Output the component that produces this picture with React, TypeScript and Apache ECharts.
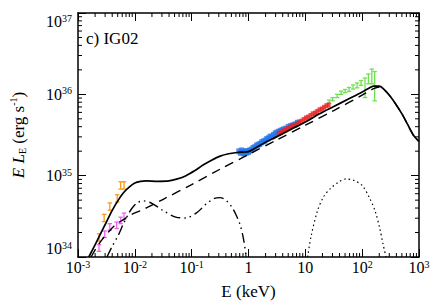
import React, { useEffect, useRef } from "react";
import * as echarts from "echarts";

// All values are log10(E / keV) and log10(E L_E / erg s^-1)
const X_MIN = -3, X_MAX = 3, Y_MIN = 34, Y_MAX = 37;

// Total model (solid)
const totalLogE = [-2.81, -2.7, -2.6, -2.5, -2.4, -2.3, -2.2, -2.1, -2.0, -1.9, -1.8, -1.6, -1.4, -1.25, -1.1, -0.95, -0.8, -0.65, -0.5, -0.35, -0.2, -0.1, 0.0, 0.1, 0.3, 0.5, 0.75, 1.0, 1.25, 1.5, 1.75, 2.0, 2.1, 2.2, 2.3, 2.4, 2.5, 2.6, 2.7, 2.8, 2.9, 3.0];
const totalLogL = [34.0, 34.15, 34.29, 34.43, 34.57, 34.69, 34.79, 34.86, 34.91, 34.93, 34.935, 34.93, 34.935, 34.96, 35.0, 35.06, 35.13, 35.19, 35.24, 35.27, 35.285, 35.29, 35.295, 35.33, 35.41, 35.48, 35.57, 35.66, 35.76, 35.85, 35.94, 36.03, 36.07, 36.1, 36.1, 36.05, 35.97, 35.87, 35.76, 35.63, 35.5, 35.42];

// Comptonised power law (dashed)
const powerLogE = [-2.77, -2.68, -2.58, -2.46, -2.35, -2.2, -2.07, -1.9, -1.78, -1.5, -1.0, -0.5, 0.0, 0.5, 1.0, 1.5, 2.0, 2.1, 2.2, 2.3, 2.4, 2.5, 2.6, 2.7, 2.8, 2.9, 3.0];
const powerLogL = [34.0, 34.11, 34.21, 34.31, 34.39, 34.46, 34.52, 34.57, 34.61, 34.71, 34.89, 35.08, 35.26, 35.44, 35.62, 35.8, 35.99, 36.03, 36.07, 36.09, 36.05, 35.97, 35.87, 35.76, 35.63, 35.5, 35.42];

// Disc + reprocessed component (dash-dot-dot)
const diskLogE = [-2.49, -2.4, -2.29, -2.2, -2.12, -2.05, -1.95, -1.85, -1.7, -1.5, -1.28, -1.1, -0.9, -0.75, -0.6, -0.5, -0.4, -0.3, -0.22, -0.15, -0.09, -0.04];
const diskLogL = [34.0, 34.13, 34.27, 34.41, 34.52, 34.6, 34.67, 34.69, 34.66, 34.57, 34.49, 34.48, 34.55, 34.65, 34.72, 34.73, 34.7, 34.62, 34.52, 34.4, 34.23, 34.0];

// Reflection hump (dotted)
const reflLogE = [1.04, 1.1, 1.21, 1.32, 1.44, 1.58, 1.72, 1.86, 2.0, 2.12, 2.23, 2.31, 2.37, 2.42];
const reflLogL = [34.0, 34.25, 34.56, 34.74, 34.84, 34.92, 34.96, 34.94, 34.88, 34.74, 34.56, 34.35, 34.15, 34.0];

// Optical/UV data (orange, magenta) with half error in dex
const orangeLogE = [-2.63, -2.54, -2.44, -2.31, -2.25, -2.19];
const orangeLogL = [34.24, 34.48, 34.62, 34.72, 34.88, 34.88];
const orangeErr = [0.045, 0.045, 0.045, 0.045, 0.045, 0.045];

const magentaLogE = [-2.63, -2.53, -2.44, -2.32, -2.25, -2.19];
const magentaLogL = [34.11, 34.28, 34.37, 34.39, 34.45, 34.5];
const magentaErr = [0.04, 0.04, 0.04, 0.04, 0.04, 0.04];

// Soft X-ray (blue)
const blueLogE = [-0.17, -0.14, -0.12, -0.1, -0.08, -0.06, -0.04, -0.02, 0.0, 0.02, 0.05, 0.08, 0.11, 0.14, 0.17, 0.2, 0.23, 0.26, 0.29, 0.32, 0.35, 0.38, 0.41, 0.44, 0.47, 0.5, 0.53, 0.56, 0.59, 0.62, 0.66, 0.7, 0.74, 0.78, 0.82, 0.86];
const blueLogL = [35.3, 35.28, 35.31, 35.29, 35.27, 35.3, 35.28, 35.3, 35.29, 35.31, 35.32, 35.34, 35.35, 35.37, 35.38, 35.39, 35.41, 35.42, 35.43, 35.45, 35.46, 35.48, 35.48, 35.5, 35.52, 35.53, 35.54, 35.55, 35.56, 35.57, 35.58, 35.6, 35.61, 35.62, 35.63, 35.65];

// Hard X-ray (red)
const redLogE = [0.53, 0.57, 0.61, 0.65, 0.69, 0.73, 0.77, 0.81, 0.85, 0.89, 0.93, 0.97, 1.01, 1.05, 1.09, 1.13, 1.17, 1.21, 1.25, 1.29, 1.33, 1.37, 1.41];
const redLogL = [35.52, 35.53, 35.55, 35.56, 35.58, 35.59, 35.61, 35.62, 35.64, 35.66, 35.67, 35.69, 35.71, 35.72, 35.74, 35.76, 35.77, 35.79, 35.81, 35.82, 35.84, 35.86, 35.87];

// Gamma-ray (green)
const greenLogE = [1.42, 1.48, 1.56, 1.63, 1.7, 1.77, 1.84, 1.91, 1.98, 2.05, 2.11, 2.17, 2.22];
const greenLogL = [35.91, 35.94, 35.98, 36.02, 36.04, 36.06, 36.09, 36.11, 36.14, 36.08, 36.19, 36.22, 36.1];
const greenErr = [0.02, 0.02, 0.02, 0.02, 0.02, 0.025, 0.025, 0.03, 0.03, 0.12, 0.06, 0.09, 0.18];

const xTickLabels = ["10{s|-3}", "10{s|-2}", "10{s|-1}", "1", "10", "10{s|2}", "10{s|3}"];
const yTickLabels = ["10{s|34}", "10{s|35}", "10{s|36}", "10{s|37}"];

const FONT = "Liberation Serif";

const zip = (a: number[], b: number[]) => a.map((v, i) => [v, b[i]]);
const zip3 = (a: number[], b: number[], c: number[]) => a.map((v, i) => [v, b[i], c[i]]);

const errorBarSeries = (name: string, data: number[][], color: string, capHalf: number) => ({
  name,
  type: "custom",
  data,
  z: 3,
  renderItem: (params: any, api: any) => {
    const x = api.value(0), y = api.value(1), e = api.value(2);
    const lo = api.coord([x, y - e]);
    const hi = api.coord([x, y + e]);
    const st = { stroke: color, lineWidth: 1.3 };
    return {
      type: "group",
      children: [
        { type: "line", shape: { x1: lo[0], y1: lo[1], x2: hi[0], y2: hi[1] }, style: st },
        { type: "line", shape: { x1: lo[0] - capHalf, y1: lo[1], x2: lo[0] + capHalf, y2: lo[1] }, style: st },
        { type: "line", shape: { x1: hi[0] - capHalf, y1: hi[1], x2: hi[0] + capHalf, y2: hi[1] }, style: st },
      ],
    };
  },
});

const xMinor: number[][] = [];
for (let n = X_MIN; n < X_MAX; n++) for (let k = 2; k <= 9; k++) xMinor.push([n + Math.log10(k), Y_MIN]);
const yMinor: number[][] = [];
for (let n = Y_MIN; n < Y_MAX; n++) for (let k = 2; k <= 9; k++) yMinor.push([X_MIN, n + Math.log10(k)]);

const labelRich = {
  s: { fontFamily: FONT, fontSize: 10, verticalAlign: "top", lineHeight: 10, color: "#000" },
};

export default function App() {
  const ref = useRef<HTMLDivElement>(null);
  useEffect(() => {
    if (!ref.current) return;
    const chart = echarts.init(ref.current, null, { renderer: "svg" });
    const axisCommon = {
      type: "value",
      axisLine: { show: true, onZero: false, lineStyle: { color: "#000", width: 1.5 } },
      splitLine: { show: false },
      axisTick: { show: true, inside: true, length: 8, lineStyle: { color: "#000", width: 1 } },
    };
    chart.setOption({
      animation: false,
      backgroundColor: "#fff",
      textStyle: { fontFamily: FONT },
      grid: { left: 65, right: 17, top: 13, bottom: 46, show: false },
      xAxis: [
        {
          ...axisCommon,
          min: X_MIN, max: X_MAX, interval: 1,
          position: "bottom",
          name: "E (keV)",
          nameLocation: "middle",
          nameGap: 26,
          nameTextStyle: { fontFamily: FONT, fontSize: 17, color: "#000" },
          axisLabel: {
            margin: 2,
            color: "#000",
            fontFamily: FONT,
            fontSize: 16,
            lineHeight: 17,
            formatter: (v: number) => xTickLabels[Math.round(v) - X_MIN],
            rich: labelRich,
          },
        },
        {
          ...axisCommon,
          min: X_MIN, max: X_MAX, interval: 1,
          position: "top",
          axisLabel: { show: false },
        },
      ],
      yAxis: [
        {
          ...axisCommon,
          min: Y_MIN, max: Y_MAX, interval: 1,
          position: "left",
          name: "{i|E L}{sub|E}{n| (erg s}{sup|-1}{n|)}",
          nameLocation: "middle",
          nameGap: 51,
          nameTextStyle: {
            fontFamily: FONT,
            rich: {
              i: { fontFamily: FONT, fontSize: 17, fontStyle: "italic", color: "#000", verticalAlign: "bottom", lineHeight: 19 },
              sub: { fontFamily: FONT, fontSize: 10, color: "#000", verticalAlign: "bottom", lineHeight: 15 },
              n: { fontFamily: FONT, fontSize: 17, color: "#000", verticalAlign: "bottom", lineHeight: 19 },
              sup: { fontFamily: FONT, fontSize: 10, color: "#000", verticalAlign: "top", lineHeight: 10 },
            },
          },
          axisLabel: {
            margin: 6,
            color: "#000",
            fontFamily: FONT,
            fontSize: 16,
            lineHeight: 17,
            verticalAlignMinLabel: "bottom",
            verticalAlignMaxLabel: "top",
            formatter: (v: number) => yTickLabels[Math.round(v) - Y_MIN],
            rich: labelRich,
          },
        },
        {
          ...axisCommon,
          min: Y_MIN, max: Y_MAX, interval: 1,
          position: "right",
          axisLabel: { show: false },
        },
      ],
      graphic: [
        {
          type: "text",
          left: 86,
          top: 30,
          style: { text: "c) IG02", fontFamily: FONT, fontSize: 17, fill: "#000" },
        },
      ],
      series: [
        errorBarSeries("optical-orange", zip3(orangeLogE, orangeLogL, orangeErr), "#f7991c", 2.2),
        errorBarSeries("uv-magenta", zip3(magentaLogE, magentaLogL, magentaErr), "#f060f0", 2.2),
        {
          name: "soft X-ray",
          type: "scatter",
          data: zip(blueLogE, blueLogL),
          symbol: "rect",
          symbolSize: [5, 6],
          itemStyle: { color: "#2277ee" },
          z: 3,
        },
        {
          name: "hard X-ray",
          type: "scatter",
          data: zip(redLogE, redLogL),
          symbol: "rect",
          symbolSize: [4, 5],
          itemStyle: { color: "#ee2020" },
          z: 3,
        },
        errorBarSeries("gamma-green", zip3(greenLogE, greenLogL, greenErr), "#6ee04e", 2.2),
        {
          name: "total",
          type: "line",
          data: zip(totalLogE, totalLogL),
          smooth: 0.3,
          showSymbol: false,
          lineStyle: { color: "#000", width: 1.7 },
          z: 4,
        },
        {
          name: "power law",
          type: "line",
          data: zip(powerLogE, powerLogL),
          smooth: 0.3,
          showSymbol: false,
          lineStyle: { color: "#000", width: 1.4, type: [9, 6] },
          z: 4,
        },
        {
          name: "disc",
          type: "line",
          data: zip(diskLogE, diskLogL),
          smooth: 0.3,
          showSymbol: false,
          lineStyle: { color: "#000", width: 1.4, type: [10, 4, 1.5, 4, 1.5, 4] },
          z: 4,
        },
        {
          name: "reflection",
          type: "line",
          data: zip(reflLogE, reflLogL),
          smooth: 0.3,
          showSymbol: false,
          lineStyle: { color: "#000", width: 1.2, type: [1.5, 3] },
          z: 4,
        },
        {
          name: "x minor ticks",
          type: "custom",
          data: xMinor,
          silent: true,
          renderItem: (params: any, api: any) => {
            const v = api.value(0);
            const b = api.coord([v, Y_MIN]);
            const t = api.coord([v, Y_MAX]);
            const st = { stroke: "#000", lineWidth: 1 };
            return {
              type: "group",
              children: [
                { type: "line", shape: { x1: b[0], y1: b[1], x2: b[0], y2: b[1] - 4 }, style: st },
                { type: "line", shape: { x1: t[0], y1: t[1], x2: t[0], y2: t[1] + 4 }, style: st },
              ],
            };
          },
        },
        {
          name: "y minor ticks",
          type: "custom",
          data: yMinor,
          silent: true,
          renderItem: (params: any, api: any) => {
            const v = api.value(1);
            const l = api.coord([X_MIN, v]);
            const r = api.coord([X_MAX, v]);
            const st = { stroke: "#000", lineWidth: 1 };
            return {
              type: "group",
              children: [
                { type: "line", shape: { x1: l[0], y1: l[1], x2: l[0] + 4, y2: l[1] }, style: st },
                { type: "line", shape: { x1: r[0], y1: r[1], x2: r[0] - 4, y2: r[1] }, style: st },
              ],
            };
          },
        },
      ],
    });
    return () => chart.dispose();
  }, []);
  return <div ref={ref} style={{ width: 436, height: 305, position: "absolute", left: 0, top: 0 }} />;
}
